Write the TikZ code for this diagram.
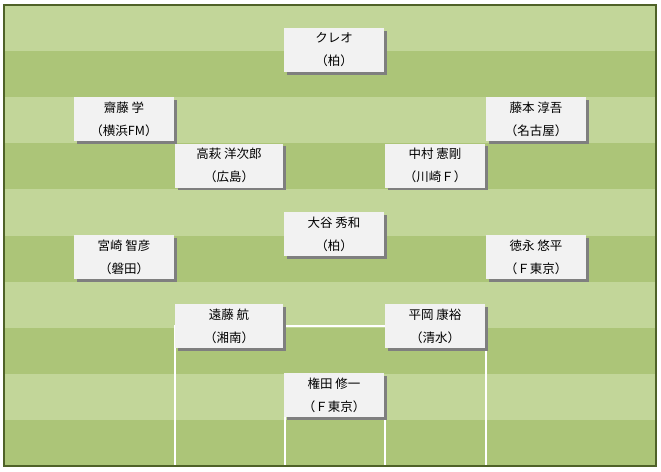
\documentclass[tikz,border=0pt]{standalone}
\usepackage{fontspec}
\setmainfont{Noto Sans CJK JP}
\usetikzlibrary{shadows}

\definecolor{fieldlight}{HTML}{C2D699}
\definecolor{fielddark}{HTML}{ACC578}
\definecolor{frameolive}{HTML}{4F6228}
\definecolor{cardgray}{HTML}{F2F2F2}
\definecolor{shadowgray}{HTML}{7F7F7F}

\begin{document}
\begin{tikzpicture}[
    x=1pt, y=-1pt,
    player/.style={rectangle, fill=cardgray, minimum width=100pt, minimum height=44pt, inner sep=0pt, align=center, font=\fontsize{12.5}{23}\selectfont, drop shadow={shadow xshift=2.5pt, shadow yshift=-2.5pt, fill=shadowgray, opacity=1}},
    wideplayer/.style={player, minimum width=108pt},
    pitchline/.style={draw=white, line width=1.2pt}
]
\useasboundingbox (0,0) rectangle (661,471);

% Field stripes
\fill[fieldlight] (4,5) rectangle (656,466);
\foreach \i in {1,3,5,7,9}
    \fill[fielddark] (4,{5+46.1*\i}) rectangle (656,{5+46.1*(\i+1)});

% Pitch lines
\draw[pitchline] (175,466) -- (175,326) -- (486,326) -- (486,466);
\draw[pitchline] (285,466) -- (285,395);
\draw[pitchline] (385,466) -- (385,395);

\draw[frameolive, line width=1.5pt] (4,5) rectangle (656,466);

% Forward
\node[player] (creo) at (334,50) {クレオ\\（柏）};

% Midfield
\node[player] (saito) at (124,119) {齋藤 学\\（横浜FM）};
\node[player] (fujimoto) at (536,119) {藤本 淳吾\\（名古屋）};
\node[wideplayer] (takahagi) at (229,165.5) {高萩 洋次郎\\（広島）};
\node[player] (nakamura) at (435,165.5) {中村 憲剛\\（川崎Ｆ）};
\node[player] (otani) at (334,234) {大谷 秀和\\（柏）};

% Defence
\node[player] (miyazaki) at (124,257) {宮崎 智彦\\（磐田）};
\node[player] (tokunaga) at (536,257) {徳永 悠平\\（Ｆ東京）};
\node[wideplayer] (endo) at (229,326) {遠藤 航\\（湘南）};
\node[player] (hiraoka) at (435,326) {平岡 康裕\\（清水）};

% Goalkeeper
\node[player] (gonda) at (334,395) {権田 修一\\（Ｆ東京）};

\end{tikzpicture}
\end{document}
